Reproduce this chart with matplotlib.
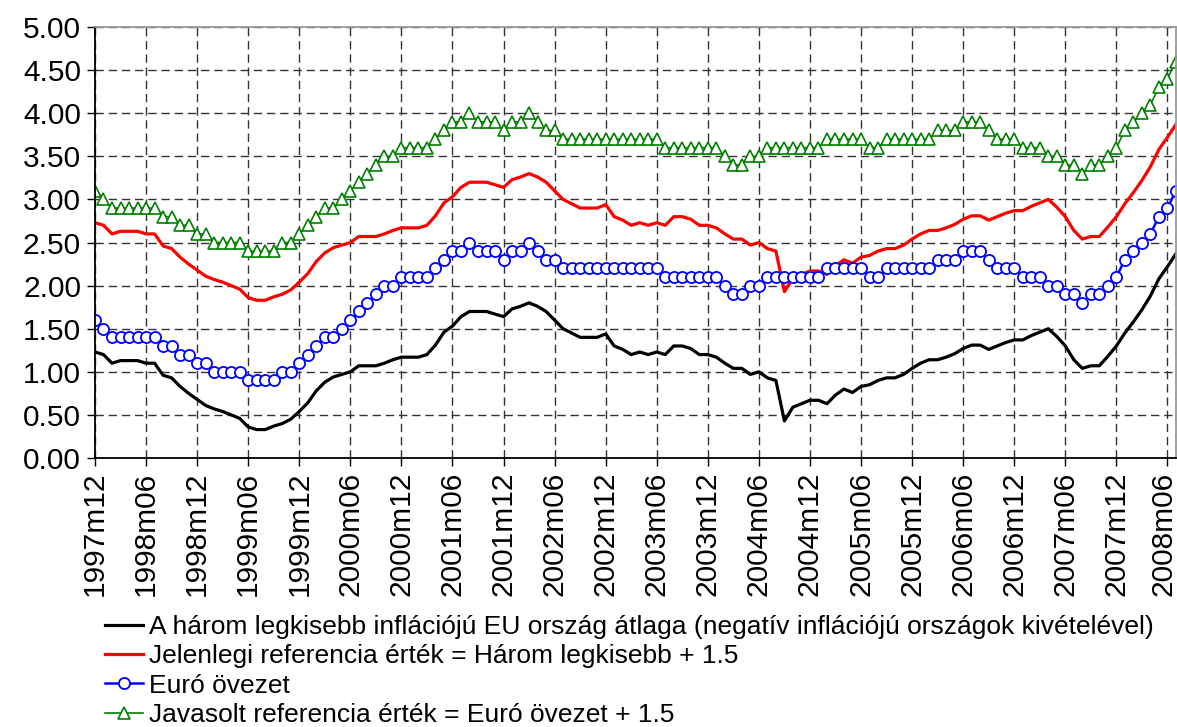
import matplotlib
matplotlib.use("Agg")
import matplotlib.pyplot as plt
import matplotlib.transforms as mtransforms
import numpy as np

plt.rcParams['font.family'] = ['Liberation Sans', 'DejaVu Sans']

#-- data: monthly, 1997m12 ... 2008m07 ------------------------------------------
harom_legkisebb = [
    1.23, 1.20, 1.10, 1.13, 1.13, 1.13, 1.10, 1.10, 0.96, 0.93, 0.83, 0.75,
    0.68, 0.61, 0.57, 0.54, 0.50, 0.46, 0.36, 0.33, 0.33, 0.37, 0.40, 0.45,
    0.54, 0.64, 0.78, 0.88, 0.94, 0.97, 1.00, 1.07, 1.07, 1.07, 1.10, 1.14,
    1.17, 1.17, 1.17, 1.20, 1.31, 1.46, 1.53, 1.64, 1.70, 1.70, 1.70, 1.67,
    1.64, 1.73, 1.76, 1.80, 1.76, 1.70, 1.60, 1.50, 1.45, 1.40, 1.40, 1.40,
    1.44, 1.30, 1.26, 1.20, 1.23, 1.20, 1.23, 1.20, 1.30, 1.30, 1.27, 1.20,
    1.20, 1.17, 1.10, 1.04, 1.04, 0.97, 1.00, 0.93, 0.90, 0.43, 0.59, 0.63,
    0.67, 0.67, 0.63, 0.73, 0.80, 0.76, 0.83, 0.85, 0.90, 0.93, 0.93, 0.97,
    1.04, 1.10, 1.14, 1.14, 1.17, 1.21, 1.27, 1.31, 1.31, 1.26, 1.30, 1.34,
    1.37, 1.37, 1.42, 1.46, 1.50, 1.41, 1.30, 1.14, 1.04, 1.07, 1.07, 1.18,
    1.30, 1.45, 1.58, 1.72, 1.88, 2.08, 2.22, 2.37]

jelenlegi_ref = [
    2.73, 2.70, 2.60, 2.63, 2.63, 2.63, 2.60, 2.60, 2.46, 2.43, 2.33, 2.25,
    2.18, 2.11, 2.07, 2.04, 2.00, 1.96, 1.86, 1.83, 1.83, 1.87, 1.90, 1.95,
    2.04, 2.14, 2.28, 2.38, 2.44, 2.47, 2.50, 2.57, 2.57, 2.57, 2.60, 2.64,
    2.67, 2.67, 2.67, 2.70, 2.81, 2.96, 3.03, 3.14, 3.20, 3.20, 3.20, 3.17,
    3.14, 3.23, 3.26, 3.30, 3.26, 3.20, 3.10, 3.00, 2.95, 2.90, 2.90, 2.90,
    2.94, 2.80, 2.76, 2.70, 2.73, 2.70, 2.73, 2.70, 2.80, 2.80, 2.77, 2.70,
    2.70, 2.67, 2.60, 2.54, 2.54, 2.47, 2.50, 2.43, 2.40, 1.93, 2.09, 2.13,
    2.17, 2.17, 2.13, 2.23, 2.30, 2.26, 2.33, 2.35, 2.40, 2.43, 2.43, 2.47,
    2.54, 2.60, 2.64, 2.64, 2.67, 2.71, 2.77, 2.81, 2.81, 2.76, 2.80, 2.84,
    2.87, 2.87, 2.92, 2.96, 3.00, 2.91, 2.80, 2.64, 2.54, 2.57, 2.57, 2.68,
    2.80, 2.95, 3.08, 3.22, 3.38, 3.58, 3.72, 3.87]

euro_ovezet = [
    1.6, 1.5, 1.4, 1.4, 1.4, 1.4, 1.4, 1.4, 1.3, 1.3, 1.2, 1.2,
    1.1, 1.1, 1.0, 1.0, 1.0, 1.0, 0.9, 0.9, 0.9, 0.9, 1.0, 1.0,
    1.1, 1.2, 1.3, 1.4, 1.4, 1.5, 1.6, 1.7, 1.8, 1.9, 2.0, 2.0,
    2.1, 2.1, 2.1, 2.1, 2.2, 2.3, 2.4, 2.4, 2.5, 2.4, 2.4, 2.4,
    2.3, 2.4, 2.4, 2.5, 2.4, 2.3, 2.3, 2.2, 2.2, 2.2, 2.2, 2.2,
    2.2, 2.2, 2.2, 2.2, 2.2, 2.2, 2.2, 2.1, 2.1, 2.1, 2.1, 2.1,
    2.1, 2.1, 2.0, 1.9, 1.9, 2.0, 2.0, 2.1, 2.1, 2.1, 2.1, 2.1,
    2.1, 2.1, 2.2, 2.2, 2.2, 2.2, 2.2, 2.1, 2.1, 2.2, 2.2, 2.2,
    2.2, 2.2, 2.2, 2.3, 2.3, 2.3, 2.4, 2.4, 2.4, 2.3, 2.2, 2.2,
    2.2, 2.1, 2.1, 2.1, 2.0, 2.0, 1.9, 1.9, 1.8, 1.9, 1.9, 2.0,
    2.1, 2.3, 2.4, 2.5, 2.6, 2.8, 2.9, 3.1]

javasolt_ref = [
    3.1, 3.0, 2.9, 2.9, 2.9, 2.9, 2.9, 2.9, 2.8, 2.8, 2.7, 2.7,
    2.6, 2.6, 2.5, 2.5, 2.5, 2.5, 2.4, 2.4, 2.4, 2.4, 2.5, 2.5,
    2.6, 2.7, 2.8, 2.9, 2.9, 3.0, 3.1, 3.2, 3.3, 3.4, 3.5, 3.5,
    3.6, 3.6, 3.6, 3.6, 3.7, 3.8, 3.9, 3.9, 4.0, 3.9, 3.9, 3.9,
    3.8, 3.9, 3.9, 4.0, 3.9, 3.8, 3.8, 3.7, 3.7, 3.7, 3.7, 3.7,
    3.7, 3.7, 3.7, 3.7, 3.7, 3.7, 3.7, 3.6, 3.6, 3.6, 3.6, 3.6,
    3.6, 3.6, 3.5, 3.4, 3.4, 3.5, 3.5, 3.6, 3.6, 3.6, 3.6, 3.6,
    3.6, 3.6, 3.7, 3.7, 3.7, 3.7, 3.7, 3.6, 3.6, 3.7, 3.7, 3.7,
    3.7, 3.7, 3.7, 3.8, 3.8, 3.8, 3.9, 3.9, 3.9, 3.8, 3.7, 3.7,
    3.7, 3.6, 3.6, 3.6, 3.5, 3.5, 3.4, 3.4, 3.3, 3.4, 3.4, 3.5,
    3.6, 3.8, 3.9, 4.0, 4.1, 4.3, 4.4, 4.6]

tick_labels = ['1997m12', '1998m06', '1998m12', '1999m06', '1999m12',
               '2000m06', '2000m12', '2001m06', '2001m12', '2002m06',
               '2002m12', '2003m06', '2003m12', '2004m06', '2004m12',
               '2005m06', '2005m12', '2006m06', '2006m12', '2007m06',
               '2007m12', '2008m06']

series_names = [
    'A három legkisebb inflációjú EU ország átlaga (negatív inflációjú országok kivételével)',
    'Jelenlegi referencia érték = Három legkisebb + 1.5',
    'Euró övezet',
    'Javasolt referencia érték = Euró övezet + 1.5']
#------------------------------------------------------------------------------

x = np.arange(len(harom_legkisebb))

fig = plt.figure(figsize=(11.77, 7.27), dpi=100)
ax = fig.add_axes([0.0807, 0.370, 0.9184, 0.5928])

ax.plot(x, harom_legkisebb, color='black', lw=2.3, label=series_names[0])
ax.plot(x, jelenlegi_ref, color='#FF0000', lw=2.3, label=series_names[1])
ax.plot(x, euro_ovezet, color='#0000FF', lw=1.8, marker='o', ms=8,
        mfc='white', mec='#0000FF', mew=1.3, label=series_names[2])
ax.plot(x, javasolt_ref, color='#008000', lw=1.2, marker='^', ms=8.5,
        mfc='white', mec='#008000', mew=1.2, label=series_names[3])

#-- axes, ticks and grid
ax.set_xlim(0, len(x) - 1)
ax.set_ylim(0, 5)
ax.set_yticks(np.arange(0, 5.01, 0.5))
ax.set_yticklabels([f'{v:.2f}' for v in np.arange(0, 5.01, 0.5)])
ax.set_xticks(np.arange(0, len(x), 6))
ax.set_xticklabels(tick_labels, rotation=90)
ax.tick_params(labelsize=21.5, direction='out', length=6, width=1, pad=4)
ax.grid(True, color='#333333', lw=1, linestyle=(0, (6, 3.5)))
ax.set_axisbelow(True)

#-- keep the last month label inside the picture
last = ax.get_xticklabels()[-1]
last.set_transform(last.get_transform() +
                   mtransforms.ScaledTranslation(-4/100, 0, fig.dpi_scale_trans))

for side in ['left', 'bottom']:
    ax.spines[side].set_color('black')
    ax.spines[side].set_linewidth(1.3)
for side in ['top', 'right']:
    ax.spines[side].set_color('#999999')
    ax.spines[side].set_linewidth(1.3)

#-- legend under the plot
fig.legend(loc='upper left', bbox_to_anchor=(0.0892, 0.154), frameon=False,
           fontsize=19.0, labelspacing=0.2, handlelength=1.45, handletextpad=0.2,
           borderpad=0, borderaxespad=0)

fig.savefig('out.png', dpi=100)
